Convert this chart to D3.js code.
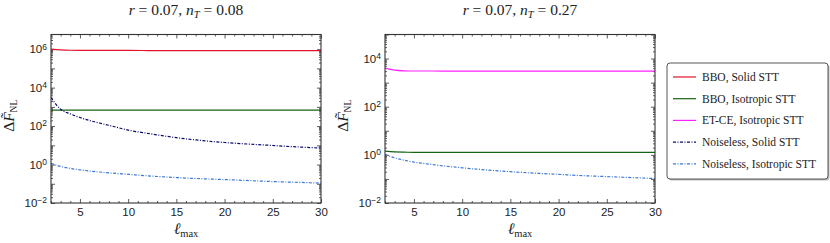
<!DOCTYPE html>
<meta charset="utf-8">
<style>
body { margin: 0; background: #fff; }
svg { font-family: "Liberation Sans", Arial, sans-serif; }
.tick text { font-size: 11.5px; fill: #222; }
.tick line { stroke: #333; stroke-width: 0.8; }
.serif { font-family: "Liberation Serif", "Times New Roman", serif; fill: #222; }
</style>
<body>
<script src="https://cdnjs.cloudflare.com/ajax/libs/d3/7.8.5/d3.min.js"></script>
<script>

// multipole cut-off
var ell = [2, 3, 4, 5, 6, 7, 8, 10, 12, 15, 18, 20, 22, 25, 28, 30];

// left panel: r = 0.07, n_T = 0.08
var bboSolidL = [1.0e6, 9.2e5, 8.8e5, 8.7e5, 8.7e5, 8.6e5, 8.6e5, 8.6e5, 8.5e5, 8.5e5, 8.5e5, 8.5e5, 8.4e5, 8.4e5, 8.4e5, 8.4e5];
var bboIsoL   = [670, 670, 670, 670, 670, 670, 670, 670, 670, 670, 670, 670, 670, 670, 670, 670];
var noiseSolidL = [3000, 750, 430, 280, 195, 145, 110, 62, 42, 25, 17, 14, 12, 9.8, 8, 7.2];
var noiseIsoL = [1.15, 0.8, 0.63, 0.53, 0.46, 0.41, 0.37, 0.31, 0.26, 0.21, 0.18, 0.165, 0.15, 0.13, 0.117, 0.108];

// right panel: r = 0.07, n_T = 0.27
var etceIsoR  = [4000, 3300, 3100, 3050, 3050, 3050, 3030, 3030, 3020, 3020, 3010, 3010, 3000, 3000, 3000, 3000];
var bboIsoR   = [1.42, 1.32, 1.29, 1.28, 1.28, 1.28, 1.28, 1.28, 1.28, 1.28, 1.28, 1.28, 1.28, 1.28, 1.28, 1.28];
var noiseIsoR = [1.05, 0.75, 0.6, 0.5, 0.44, 0.39, 0.35, 0.29, 0.245, 0.2, 0.17, 0.155, 0.14, 0.125, 0.112, 0.104];

var legendNames = ["BBO, Solid STT", "BBO, Isotropic STT", "ET-CE, Isotropic STT",
                   "Noiseless, Solid STT", "Noiseless, Isotropic STT"];
var colors = ["#e3122d", "#146414", "#ff1fff", "#0a0a6e", "#3b78d8"];
var dashes = [null, null, null, "3,1.5,1,1.5", "3,1.5,1,1.5"];

var W = 270, H = 168.5;

var svg = d3.select("body").append("svg")
    .attr("width", 830)
    .attr("height", 243);

function supText(sel, base, exp) {
  sel.text(base);
  sel.append("tspan").attr("dy", "-0.45em").attr("font-size", "8.5px").text(exp);
}

function panel(left, top, yMax, nT, series) {
  var g = svg.append("g").attr("transform", "translate(" + left + "," + top + ")");

  var x = d3.scaleLinear().domain([2, 30]).range([0, W]);
  var y = d3.scaleLog().domain([1e-2, yMax]).range([H, 0]);

  var decades = [], minor = [];
  for (var e = -2; e <= 7; e++) {
    var v = Math.pow(10, e);
    if (v <= yMax) decades.push(v);
    for (var k = 2; k <= 9; k++) if (k * v <= yMax) minor.push(k * v);
  }
  var xMinor = d3.range(2, 31).filter(function(d) { return d % 5 !== 0; });
  var xMajor = [5, 10, 15, 20, 25, 30];

  function clean(s) { s.select(".domain").remove(); }

  // y ticks
  g.append("g").call(d3.axisLeft(y).tickValues(minor).tickSize(-2).tickFormat("")).call(clean);
  g.append("g").attr("transform", "translate(" + W + ",0)")
    .call(d3.axisRight(y).tickValues(minor).tickSize(-2).tickFormat("")).call(clean);
  g.append("g").attr("transform", "translate(" + W + ",0)")
    .call(d3.axisRight(y).tickValues(decades).tickSize(-4).tickFormat("")).call(clean);
  var ya = g.append("g")
    .call(d3.axisLeft(y).tickValues(decades).tickSize(-4).tickPadding(4).tickFormat(function() { return ""; }))
    .call(clean);
  ya.selectAll(".tick text").each(function(d) {
    var ex = Math.round(Math.log10(d));
    if (ex % 2 === 0) supText(d3.select(this), "10", ex < 0 ? "\u2212" + (-ex) : "" + ex);
  });

  // x ticks
  g.append("g").attr("transform", "translate(0," + H + ")")
    .call(d3.axisBottom(x).tickValues(xMinor).tickSize(-2).tickFormat("")).call(clean);
  g.append("g").attr("transform", "translate(0," + H + ")")
    .call(d3.axisBottom(x).tickValues(xMajor).tickSize(-4).tickPadding(5).tickFormat(d3.format("d"))).call(clean);
  g.append("g")
    .call(d3.axisTop(x).tickValues(xMinor).tickSize(-2).tickFormat("")).call(clean);
  g.append("g")
    .call(d3.axisTop(x).tickValues(xMajor).tickSize(-4).tickFormat("")).call(clean);

  // curves
  var clipId = "clip" + left;
  g.append("clipPath").attr("id", clipId).append("rect").attr("width", W).attr("height", H);
  var line = d3.line()
      .x(function(d) { return x(d[0]); })
      .y(function(d) { return y(d[1]); })
      .curve(d3.curveMonotoneX);
  series.forEach(function(s) {
    g.append("path")
      .attr("clip-path", "url(#" + clipId + ")")
      .attr("d", line(ell.map(function(l, i) { return [l, s.values[i]]; })))
      .attr("fill", "none")
      .attr("stroke", colors[s.idx])
      .attr("stroke-width", 1.2)
      .attr("stroke-dasharray", dashes[s.idx]);
  });

  // frame
  g.append("rect").attr("width", W).attr("height", H)
    .attr("fill", "none").attr("stroke", "#333").attr("stroke-width", 1.1);

  // title
  var t = g.append("text").attr("class", "serif").attr("x", W / 2).attr("y", -20)
    .attr("text-anchor", "middle").attr("font-size", "15.5px");
  t.append("tspan").attr("font-style", "italic").text("r");
  t.append("tspan").text(" = 0.07, ");
  t.append("tspan").attr("font-style", "italic").text("n");
  t.append("tspan").attr("font-style", "italic").attr("font-size", "10.5px").attr("dy", 3).text("T");
  t.append("tspan").attr("dy", -3).text(" = " + nT);

  // x label
  var xl = g.append("text").attr("class", "serif").attr("x", W / 2).attr("y", H + 31)
    .attr("text-anchor", "middle").attr("font-size", "16px");
  xl.append("tspan").attr("font-style", "italic").text("\u2113");
  xl.append("tspan").attr("font-size", "10.5px").attr("dy", 3).text("max");

  // y label
  var yl = g.append("text").attr("class", "serif")
    .attr("transform", "translate(-37," + (H / 2 - 3) + ") rotate(-90)")
    .attr("text-anchor", "middle").attr("font-size", "15.5px");
  yl.append("tspan").text("\u0394");
  yl.append("tspan").attr("font-style", "italic").text("F\u0303");
  yl.append("tspan").attr("font-size", "9.5px").attr("dy", 3).text("NL");
}

panel(51, 34.5, 5.8e6, "0.08", [
  { idx: 0, values: bboSolidL },
  { idx: 1, values: bboIsoL },
  { idx: 3, values: noiseSolidL },
  { idx: 4, values: noiseIsoL }
]);

panel(385, 34.5, 1e5, "0.27", [
  { idx: 2, values: etceIsoR },
  { idx: 1, values: bboIsoR },
  { idx: 4, values: noiseIsoR }
]);

// legend
var lg = svg.append("g").attr("transform", "translate(667,63)");
lg.append("rect").attr("x", 1.5).attr("y", 1.5).attr("width", 161).attr("height", 116)
  .attr("rx", 3).attr("fill", "#bbb");
lg.append("rect").attr("width", 161).attr("height", 116).attr("rx", 3)
  .attr("fill", "#fff").attr("stroke", "#444").attr("stroke-width", 0.9);
legendNames.forEach(function(name, i) {
  var ry = 14 + i * 21.7;
  lg.append("line").attr("x1", 6).attr("x2", 29).attr("y1", ry).attr("y2", ry)
    .attr("stroke", colors[i]).attr("stroke-width", 1.2).attr("stroke-dasharray", dashes[i]);
  lg.append("text").attr("class", "serif").attr("x", 35).attr("y", ry + 4)
    .attr("font-size", "11.5px").text(name);
});

</script>
</body>
